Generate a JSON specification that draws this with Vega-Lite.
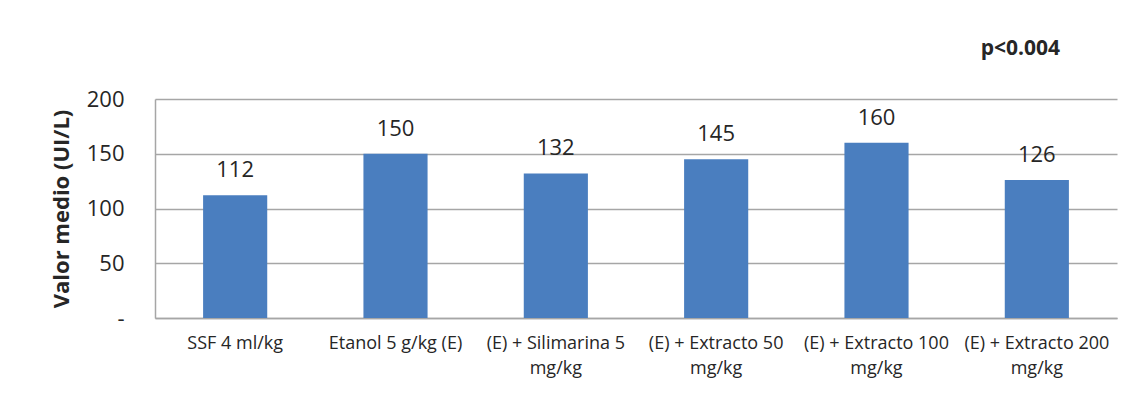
{
  "$schema": "https://vega.github.io/schema/vega-lite/v6.json",
  "width": 962,
  "height": 219,
  "autosize": {"type": "none"},
  "padding": {"left": 155, "top": 99, "right": 14, "bottom": 76},
  "background": "white",
  "title": {
    "text": "p<0.004",
    "anchor": "end",
    "frame": "group",
    "baseline": "alphabetic",
    "offset": 12,
    "dx": -57,
    "font": "Open Sans",
    "fontSize": 21,
    "fontWeight": "bold",
    "color": "#262626"
  },
  "data": {
    "values": [
      {"grupo": "SSF 4 ml/kg", "valor": 112},
      {"grupo": "Etanol 5 g/kg  (E)", "valor": 150},
      {"grupo": "(E) + Silimarina 5 mg/kg", "valor": 132},
      {"grupo": "(E) + Extracto 50 mg/kg", "valor": 145},
      {"grupo": "(E) + Extracto 100 mg/kg", "valor": 160},
      {"grupo": "(E) + Extracto 200 mg/kg", "valor": 126}
    ]
  },
  "encoding": {
    "x": {
      "field": "grupo",
      "type": "nominal",
      "sort": null,
      "scale": {"paddingInner": 0.6, "paddingOuter": 0.3},
      "axis": {
        "title": null,
        "labelAngle": 0,
        "labelLimit": 0,
        "ticks": false,
        "labelPadding": 16,
        "labelFont": "Open Sans",
        "labelFontSize": 18,
        "labelColor": "#262626",
        "labelLineHeight": 25,
        "labelBaseline": "top",
        "domainColor": "#a6a6a6",
        "domainWidth": 1.5,
        "labelExpr": "indexof(datum.label, ' mg/kg') > 0 ? [replace(datum.label, ' mg/kg', ''), 'mg/kg'] : datum.label"
      }
    },
    "y": {
      "field": "valor",
      "type": "quantitative",
      "scale": {"domain": [0, 200]},
      "axis": {
        "title": "Valor medio (UI/L)",
        "titleFont": "Open Sans",
        "titleFontSize": 22,
        "titleFontWeight": "bold",
        "titleColor": "#262626",
        "titlePadding": 13,
        "values": [0, 50, 100, 150, 200],
        "ticks": false,
        "labelPadding": 31,
        "labelFont": "Open Sans",
        "labelFontSize": 22,
        "labelColor": "#262626",
        "labelExpr": "datum.value == 0 ? '-' : datum.label",
        "grid": true,
        "gridColor": "#a6a6a6",
        "gridWidth": 1.5,
        "domainColor": "#a6a6a6",
        "domainWidth": 1.5
      }
    }
  },
  "layer": [
    {"mark": {"type": "bar", "color": "#4a7ebf"}},
    {
      "mark": {
        "type": "text",
        "baseline": "alphabetic",
        "dy": -18,
        "font": "Open Sans",
        "fontSize": 22,
        "color": "#262626"
      },
      "encoding": {"text": {"field": "valor", "type": "quantitative"}}
    }
  ],
  "config": {"view": {"stroke": null}}
}
